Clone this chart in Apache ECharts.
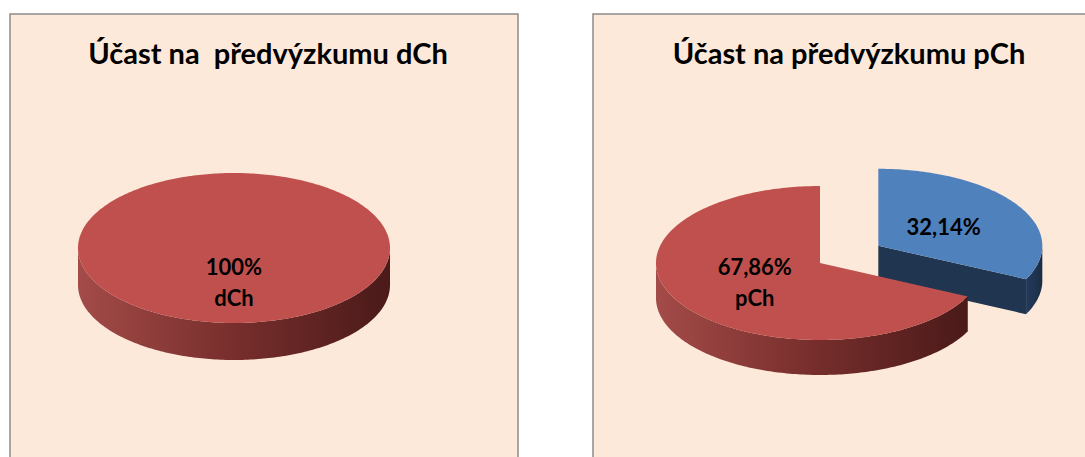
<!DOCTYPE html>
<html>
<head>
<meta charset="utf-8">
<script src="https://cdn.jsdelivr.net/npm/echarts@6/dist/echarts.min.js"></script>
<style>
  html, body { margin: 0; padding: 0; background: #fff; }
  #chart { width: 1085px; height: 457px; }
</style>
</head>
<body>
<div id="chart"></div>
<script>
// data
const titles = ['Účast na  předvýzkumu dCh', 'Účast na předvýzkumu pCh'];
const dChNames = ['dCh'];
const dChValues = [100];
const dChShowName = [true];
const pChNames = ['dCh', 'pCh'];
const pChValues = [32.14, 67.86];
const pChShowName = [false, true];
const pChExplode = [0.42, 0];

// 3d-ish pie layout (pixels)
const leftPie = { cx: 234, cy: 248, rx: 156, ry: 75, thick: 37, digits: 0, labelR: 0.45 };
const rightPie = { cx: 820, cy: 263, rx: 164, ry: 77, thick: 35, digits: 2, labelR: 0.47 };

const colors = {
  red: { top: '#C0504D', side: ['#A34B48', '#772E2C', '#4A1A19'], cut: '#5A201F' },
  blue: { top: '#4F81BD', side: ['#22395A', '#1F3550', '#1A2C44'], cut: '#1F3550' }
};

function buildData(values) {
  let acc = 0;
  return values.map(function (v, i) {
    const item = [acc, v, i];
    acc += v;
    return item;
  });
}

function fmt(v, digits) {
  return v.toFixed(digits).replace('.', ',') + '%';
}

function pt(p, cx, cy, t) {
  return [cx + p.rx * Math.sin(t), cy - p.ry * Math.cos(t)];
}

function makeRender(p, values, names, showName, explode, palette) {
  const total = values.reduce(function (s, v) { return s + v; }, 0);
  return function (params, api) {
    const start = api.value(0), val = api.value(1), idx = api.value(2);
    const a = start / total * Math.PI * 2;
    const b = (start + val) / total * Math.PI * 2;
    const mid = (a + b) / 2;
    const ex = explode ? explode[idx] : 0;
    const cx = p.cx + ex * p.rx * Math.sin(mid);
    const cy = p.cy - ex * p.ry * Math.cos(mid);
    const col = palette[idx];
    const full = val >= total;
    const children = [];
    const step = Math.PI / 180;

    // outer wall (front half only)
    const w0 = Math.max(a, Math.PI / 2), w1 = Math.min(b, Math.PI * 1.5);
    if (w1 > w0) {
      const top = [], bot = [];
      for (let t = w0; t < w1; t += step) top.push(pt(p, cx, cy, t));
      top.push(pt(p, cx, cy, w1));
      for (let i = top.length - 1; i >= 0; i--) bot.push([top[i][0], top[i][1] + p.thick]);
      children.push({
        type: 'polygon',
        shape: { points: top.concat(bot) },
        style: {
          fill: new echarts.graphic.LinearGradient(0, 0, 1, 0, [
            { offset: 0, color: col.side[0] },
            { offset: 0.5, color: col.side[1] },
            { offset: 1, color: col.side[2] }
          ], false)
        }
      });
    }

    // cut faces
    if (!full) {
      [[a, -1], [b, 1]].forEach(function (e) {
        if (e[1] * Math.sin(e[0]) > 0.001) {
          const r = pt(p, cx, cy, e[0]);
          children.push({
            type: 'polygon',
            shape: { points: [[cx, cy], r, [r[0], r[1] + p.thick], [cx, cy + p.thick]] },
            style: { fill: col.cut }
          });
        }
      });
    }

    // top face
    const face = full ? [] : [[cx, cy]];
    for (let t = a; t < b; t += step) face.push(pt(p, cx, cy, t));
    face.push(pt(p, cx, cy, b));
    children.push({ type: 'polygon', shape: { points: face }, style: { fill: col.top } });

    // label
    const lx = full ? cx : cx + p.labelR * p.rx * Math.sin(mid);
    const ly = full ? cy + p.labelR * p.ry : cy - p.labelR * p.ry * Math.cos(mid);
    let txt = fmt(values[idx], p.digits);
    if (showName[idx]) txt += '\n' + names[idx];
    children.push({
      type: 'text',
      style: {
        text: txt, x: lx, y: ly, fill: '#000',
        font: 'bold 22px Lato', align: 'center', verticalAlign: 'middle',
        lineHeight: 31
      }
    });

    return { type: 'group', children: children };
  };
}

const chart = echarts.init(document.getElementById('chart'), null, { renderer: 'svg' });

chart.setOption({
  animation: false,
  graphic: [
    { type: 'rect', shape: { x: 10, y: 14, width: 508, height: 460 },
      style: { fill: '#FDE9DA', stroke: '#8C8C8C', lineWidth: 1.5 }, z: -10 },
    { type: 'rect', shape: { x: 593, y: 14, width: 520, height: 460 },
      style: { fill: '#FDE9DA', stroke: '#8C8C8C', lineWidth: 1.5 }, z: -10 }
  ],
  title: [
    { text: titles[0], left: 263, top: 33, textAlign: 'center',
      textStyle: { fontFamily: 'Lato', fontWeight: 'bold', fontSize: 29, color: '#000' } },
    { text: titles[1], left: 844, top: 33, textAlign: 'center',
      textStyle: { fontFamily: 'Lato', fontWeight: 'bold', fontSize: 29, color: '#000' } }
  ],
  series: [
    {
      type: 'custom',
      name: titles[0],
      coordinateSystem: 'none',
      renderItem: makeRender(leftPie, dChValues, dChNames, dChShowName, null, [colors.red]),
      data: buildData(dChValues)
    },
    {
      type: 'custom',
      name: titles[1],
      coordinateSystem: 'none',
      renderItem: makeRender(rightPie, pChValues, pChNames, pChShowName, pChExplode, [colors.blue, colors.red]),
      data: buildData(pChValues)
    }
  ]
});
</script>
</body>
</html>
